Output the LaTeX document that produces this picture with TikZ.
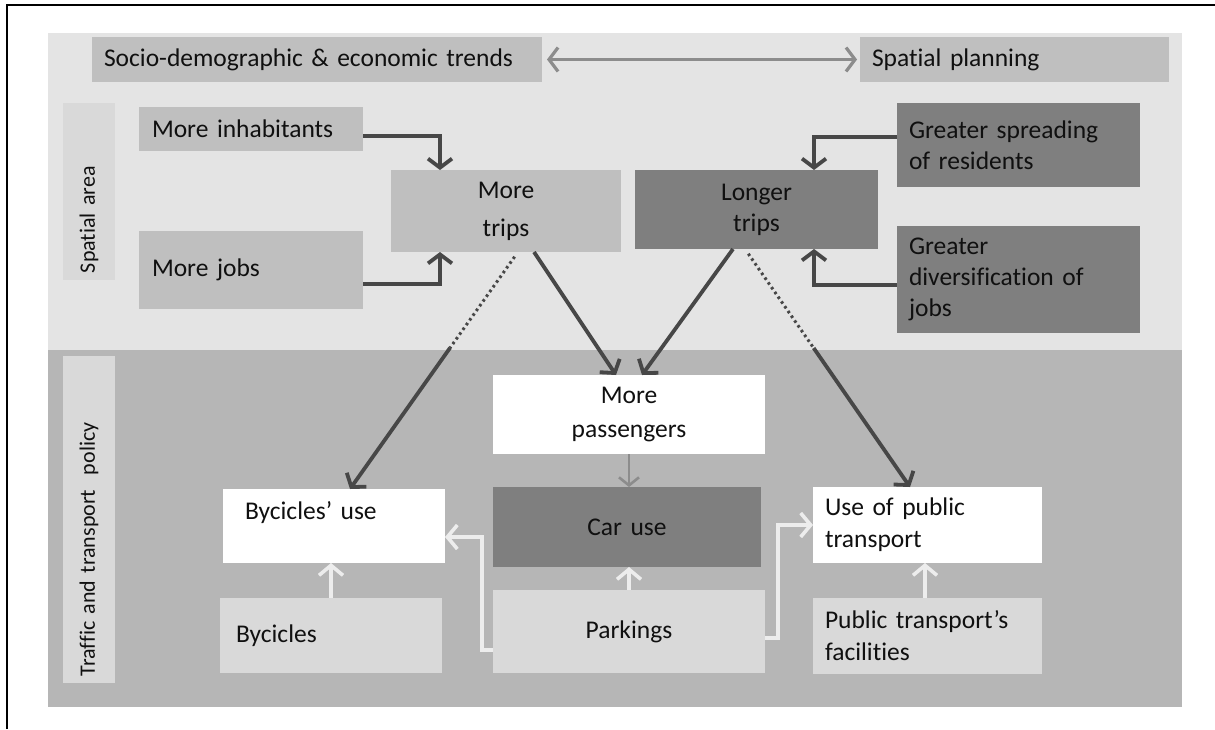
\documentclass[tikz,border=0pt]{standalone}
\usepackage{fontspec}
\setmainfont{Carlito}[Ligatures=NoCommon]
\usetikzlibrary{arrows.meta,calc}
\definecolor{bglight}{HTML}{E4E4E4}
\definecolor{bgdark}{HTML}{B6B6B6}
\definecolor{midbox}{HTML}{BFBFBF}
\definecolor{darkbox}{HTML}{7F7F7F}
\definecolor{palebox}{HTML}{D9D9D9}
\definecolor{conncol}{HTML}{474747}
\definecolor{graycol}{HTML}{8C8C8C}
\definecolor{lightcol}{HTML}{EDEDED}
\definecolor{textcol}{HTML}{101010}
\begin{document}
\begin{tikzpicture}[x=1pt,y=-1pt,
  bx/.style={inner ysep=0pt, outer sep=0pt, font=\fontsize{25.5}{32}\selectfont, text=textcol},
  lbox/.style={bx, align=left},
  cbox/.style={bx, align=center, inner xsep=0pt},
  sidelbl/.style={bx, fill=palebox, rotate=90, align=left, inner xsep=7pt, font=\fontsize{22}{26}\selectfont},
  conn/.style={draw=conncol, line width=3.8pt, -{Straight Barb[length=9pt,width=24pt]}},
  dotline/.style={draw=conncol, line width=3pt, dash pattern=on 2.6pt off 3.2pt},
  grayarr/.style={draw=graycol, line width=2.6pt, -{Straight Barb[length=8pt,width=20pt]}},
  dblarr/.style={draw=graycol, line width=3.2pt, {Straight Barb[length=9pt,width=24pt]}-{Straight Barb[length=9pt,width=24pt]}},
  lightarr/.style={draw=lightcol, line width=3.6pt, -{Straight Barb[length=10pt,width=24pt]}}
]
\useasboundingbox (0,0) rectangle (1215,729);
\fill[white] (0,0) rectangle (1215,729);
% frame
\draw[line width=1.8pt, black] (7,729) -- (7,5) -- (1215,5);
% background areas
\fill[bglight] (48,33) rectangle (1182,350);
\fill[bgdark] (48,350) rectangle (1182,707);

% top row
\node[lbox, fill=midbox, minimum width=450, minimum height=45, text width=426, inner xsep=12pt] (socio) at (317,59.5) {Socio-demographic \& economic trends};
\node[lbox, fill=midbox, minimum width=309, minimum height=45, text width=285, inner xsep=12pt] (plan) at (1014.5,59.5) {Spatial planning};
\draw[dblarr] ([xshift=5pt]socio.east) -- ([xshift=-3pt]plan.west);

% side labels
\node[sidelbl, minimum width=177, minimum height=52, text width=163] (salbl) at (89,191.5) {Spatial area};
\node[sidelbl, minimum width=327, minimum height=52, text width=313] (tlbl) at (89,519.5) {Traffic and transport~ policy};

% spatial area boxes
\node[lbox, fill=midbox, minimum width=224, minimum height=44, text width=198, inner xsep=13pt] (inh) at (251,129) {More inhabitants};
\node[lbox, fill=midbox, minimum width=224, minimum height=78, text width=198, inner xsep=13pt] (jobs) at (251,270) {More jobs};
\node[cbox, fill=midbox, minimum width=230, minimum height=82, text width=230, font=\fontsize{25.5}{38}\selectfont] (trips) at (506,211) {More\\trips};
\node[cbox, fill=darkbox, minimum width=243, minimum height=79, text width=243, font=\fontsize{25.5}{31}\selectfont] (long) at (756.5,209.5) {Longer\\trips};
\node[lbox, fill=darkbox, minimum width=243, minimum height=84, text width=219, inner xsep=12pt, font=\fontsize{25.5}{31}\selectfont] (spread) at (1018.5,145) {Greater spreading\\of residents};
\node[lbox, fill=darkbox, minimum width=243, minimum height=107, text width=219, inner xsep=12pt, font=\fontsize{25.5}{31}\selectfont] (div) at (1018.5,279.5) {Greater\\diversification of\\jobs};

% transport policy boxes
\node[cbox, fill=white, minimum width=272, minimum height=79, text width=272, font=\fontsize{25.5}{34}\selectfont] (pass) at (629,414.5) {More\\passengers};
\node[cbox, fill=darkbox, minimum width=268, minimum height=80, text width=268] (car) at (627,527) {Car use};
\node[cbox, fill=palebox, minimum width=272, minimum height=83, text width=272] (park) at (629,631.5) {Parkings};
\node[lbox, fill=white, minimum width=222, minimum height=74, text width=178, inner xsep=22pt] (bycuse) at (334,526) {Bycicles’ use\\~};
\node[lbox, fill=palebox, minimum width=222, minimum height=75, text width=190, inner xsep=16pt] (byc) at (331,635.5) {Bycicles};
\node[lbox, fill=white, minimum width=229, minimum height=76, text width=205, inner xsep=12pt] (pubuse) at (927.5,525) {Use of public\\transport};
\node[lbox, fill=palebox, minimum width=229, minimum height=76, text width=205, inner xsep=12pt] (fac) at (927.5,636) {Public transport’s\\facilities};

% connectors in spatial area
\draw[conn] ([yshift=-7pt]inh.east) -| ([xshift=-66pt]trips.north);
\draw[conn] ([yshift=-14pt]jobs.east) -| ([xshift=-66pt]trips.south);
\draw[conn] ([yshift=8pt]spread.west) -| ([xshift=57.5pt]long.north);
\draw[conn] ([yshift=-5.5pt]div.west) -| ([xshift=57.5pt]long.south);

% diagonal connectors
\coordinate (tA) at ([xshift=12pt]trips.south);
\coordinate (bA) at ([xshift=16pt]bycuse.north);
\coordinate (mA) at ($(tA)!0.404!(bA)$);
\draw[dotline] ($(tA)!0.02!(bA)$) -- (mA);
\draw[conn] (mA) -- (bA);

\draw[conn] ([xshift=28pt]trips.south) -- ([xshift=-13pt]pass.north);
\draw[conn] ([xshift=-23.5pt]long.south) -- ([xshift=13pt]pass.north);

\coordinate (lB) at ([xshift=-11.5pt]long.south);
\coordinate (pB) at ([xshift=-17.5pt]pubuse.north);
\coordinate (mB) at ($(lB)!0.416!(pB)$);
\draw[dotline] ($(lB)!0.02!(pB)$) -- (mB);
\draw[conn] (mB) -- (pB);

% policy connectors
\draw[grayarr] (pass.south) -- ([xshift=2pt]car.north);
\draw[lightarr] (park.north) -- ([xshift=2pt]car.south);
\draw[lightarr] (byc.north) -- (byc.north |- bycuse.south);
\draw[lightarr] ([xshift=-2.5pt]fac.north) -- ([xshift=-2.5pt]pubuse.south);
\draw[lightarr] ([yshift=-18.5pt]park.west) -- ++(-11,0) |- ([yshift=-11pt]bycuse.east);
\draw[lightarr] ([yshift=-6.5pt]park.east) -- ++(13,0) |- (pubuse.west);
\end{tikzpicture}
\end{document}
